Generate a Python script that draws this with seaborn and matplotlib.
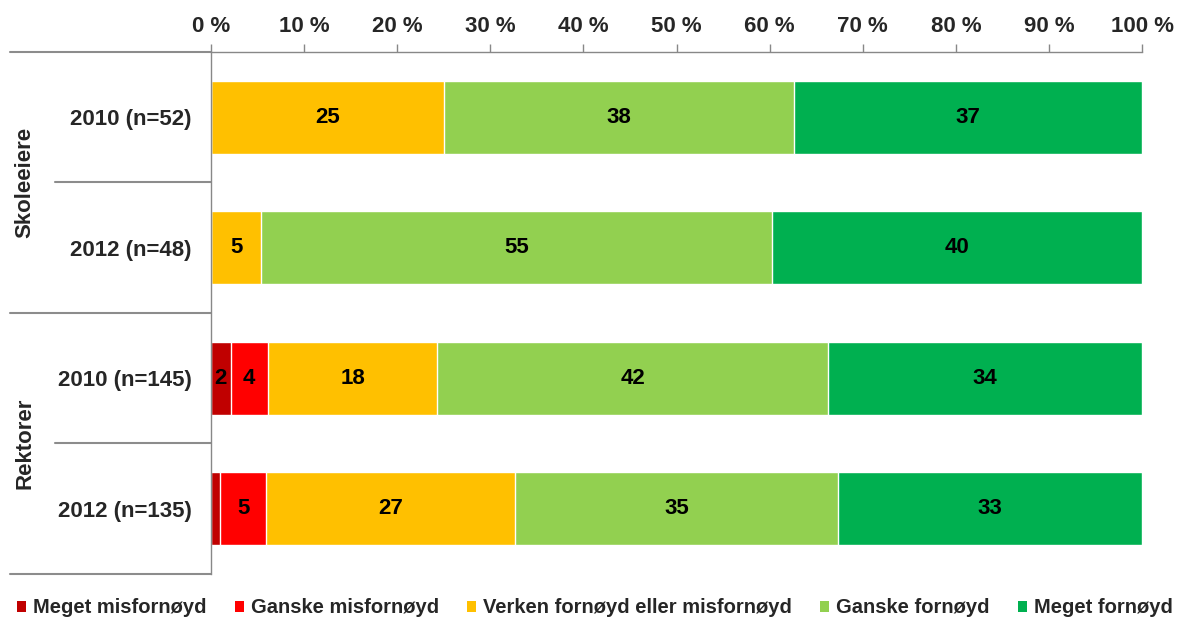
import matplotlib
matplotlib.use("Agg")
import matplotlib.pyplot as plt
from matplotlib.patches import Patch
import seaborn as sns

# Data (percent of respondents)
rows = ['2010 (n=52)', '2012 (n=48)', '2010 (n=145)', '2012 (n=135)']
groups = ['Skoleeiere', 'Rektorer']
categories = ['Meget misfornøyd', 'Ganske misfornøyd', 'Verken fornøyd eller misfornøyd',
              'Ganske fornøyd', 'Meget fornøyd']
meget_misfornoyd = [0, 0, 2.1, 1.0]
ganske_misfornoyd = [0, 0, 4.0, 4.9]
verken = [25.0, 5.4, 18.2, 26.8]
ganske_fornoyd = [37.6, 54.8, 42.0, 34.6]
meget_fornoyd = [37.4, 39.8, 33.7, 32.7]
xticks = [0, 10, 20, 30, 40, 50, 60, 70, 80, 90, 100]

colors = ['#C00000', '#FF0000', '#FFC000', '#92D050', '#00B050']
series = [meget_misfornoyd, ganske_misfornoyd, verken, ganske_fornoyd, meget_fornoyd]

sns.set_style("white")
plt.rcParams['font.family'] = ['Liberation Sans', 'DejaVu Sans']
plt.rcParams['font.weight'] = 'bold'

fig = plt.figure(figsize=(11.77, 6.18), dpi=100)
ax = fig.add_axes([0.1793, 0.0712, 0.7910, 0.8447])

# cumulative totals, drawn from the outermost layer inwards
cum = []
running = [0] * len(rows)
for s in series:
    running = [r + v for r, v in zip(running, s)]
    cum.append(running)

for i in range(len(series) - 1, -1, -1):
    sns.barplot(x=cum[i], y=rows, order=rows, orient='h', color=colors[i],
                saturation=1, width=0.56, edgecolor='white', linewidth=1,
                errorbar=None, ax=ax)

# value labels in the middle of each segment
for i, s in enumerate(series):
    for j, v in enumerate(s):
        if v >= 1.5:
            start = cum[i][j] - v
            ax.text(start + v / 2, j, f'{round(v)}', ha='center', va='center',
                    fontsize=16, fontweight='bold', color='black')

ax.set_xlim(0, 100)
ax.set_ylim(3.5, -0.5)
ax.set_xlabel('')
ax.set_ylabel('')
ax.xaxis.tick_top()
ax.set_xticks(xticks)
ax.set_xticklabels([f'{t} %' for t in xticks])
ax.tick_params(axis='x', top=True, direction='out', length=6, width=1, color='#888888',
               pad=5, labelsize=16)
ax.tick_params(axis='y', left=False, length=0, pad=14, labelsize=16)
for lab in ax.get_xticklabels() + ax.get_yticklabels():
    lab.set_fontweight('bold')

for side in ['right', 'bottom']:
    ax.spines[side].set_visible(False)
for side in ['top', 'left']:
    ax.spines[side].set_color('#888888')
    ax.spines[side].set_linewidth(1)

# group separators on the category axis
tr = ax.get_yaxis_transform()
for y, x0 in [(-0.5, -0.216), (0.5, -0.168), (1.5, -0.216), (2.5, -0.168), (3.5, -0.216)]:
    ax.plot([x0, 0], [y, y], color='#8c8c8c', lw=1.5, transform=tr, clip_on=False)

ax.text(-0.200, 0.5, groups[0], transform=tr, rotation=90, ha='center', va='center',
        fontsize=16, fontweight='bold')
ax.text(-0.200, 2.5, groups[1], transform=tr, rotation=90, ha='center', va='center',
        fontsize=16, fontweight='bold')

handles = [Patch(facecolor=c, edgecolor='none') for c in colors]
fig.legend(handles, categories, loc='center', bbox_to_anchor=(0.5055, 0.0162), ncol=5,
           frameon=False, handlelength=0.45, handleheight=0.45,
           handletextpad=0.35, columnspacing=1.4, borderpad=0, borderaxespad=0,
           prop={'weight': 'bold', 'size': 14.5})

fig.savefig('out.png', dpi=100)
